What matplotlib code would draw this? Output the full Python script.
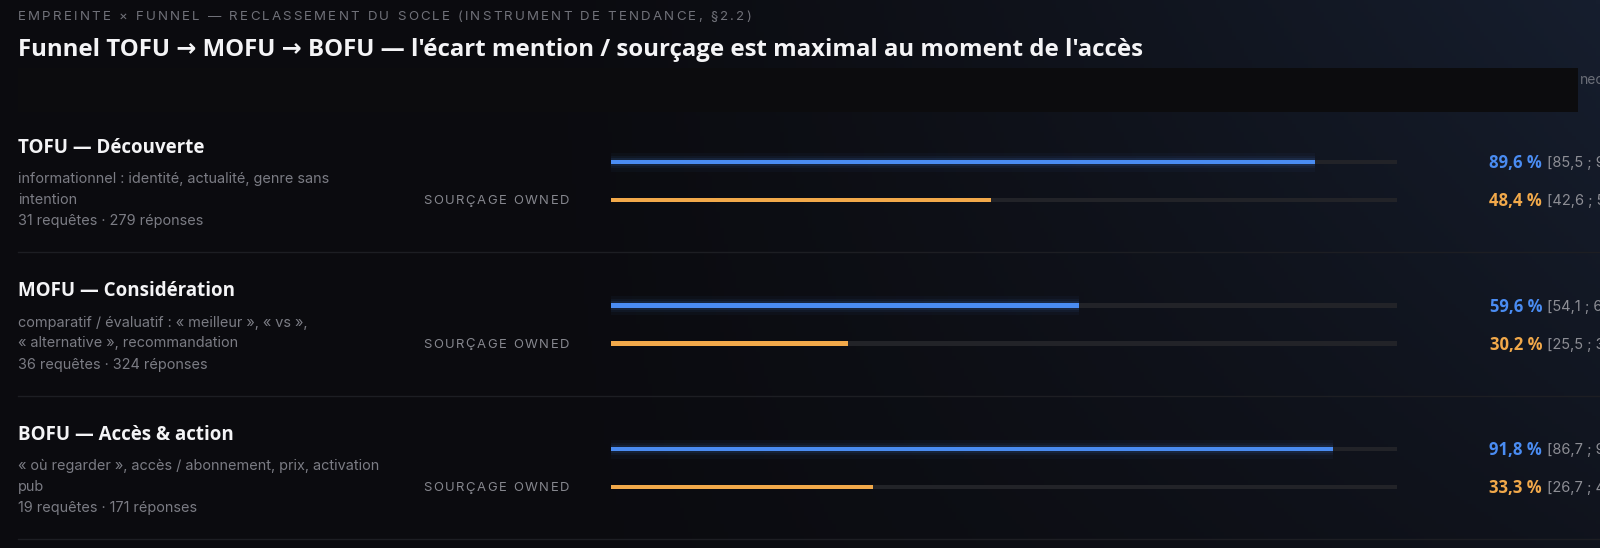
import numpy as np
import matplotlib
matplotlib.use("Agg")
from matplotlib import pyplot as plt
from matplotlib.patches import Rectangle

# data
stages = ["TOFU — Découverte", "MOFU — Considération", "BOFU — Accès & action"]
descs = [
    ["informationnel : identité, actualité, genre sans", "intention"],
    ["comparatif / évaluatif : « meilleur », « vs »,", "« alternative », recommandation"],
    ["« où regarder », accès / abonnement, prix, activation", "pub"],
]
n_requetes = [31, 36, 19]
n_reponses = [279, 324, 171]
mention = [89.6, 59.6, 91.8]
mention_ci = [(85.5, 92.9), (54.1, 64.9), (86.7, 95.0)]
owned = [48.4, 30.2, 33.3]
owned_ci = [(42.6, 54.3), (25.5, 35.4), (26.7, 40.6)]

kicker = "EMPREINTE × FUNNEL — RECLASSEMENT DU SOCLE (INSTRUMENT DE TENDANCE, §2.2)"
title = "Funnel TOFU → MOFU → BOFU — l'écart mention / sourçage est maximal au moment de l'accès"
owned_label = "SOURÇAGE OWNED"
note_tail = "nec"

BLUE = "#4a8cf2"
ORANGE = "#f2a94a"
TRACK = "#222328"
BOLD = ["Open Sans", "DejaVu Sans"]
W, H = 1600, 548

fig = plt.figure(figsize=(W / 100, H / 100), dpi=100)
bg = fig.add_axes([0, 0, 1, 1])
bg.set_xlim(0, W)
bg.set_ylim(H, 0)
bg.axis("off")

# background gradient, dark left -> bluish top right
xx, yy = np.meshgrid(np.linspace(0, 1, 400), np.linspace(0, 1, 137))
w = np.clip((xx - 0.3) / 0.7, 0, 1) ** 1.3 * (1 - 0.55 * yy)
c0 = np.array([11, 11, 15]) / 255
c1 = np.array([22, 30, 46]) / 255
img = c0 + (c1 - c0) * w[..., None]
bg.imshow(img, extent=[0, W, H, 0], aspect="auto", zorder=0)

renderer = fig.canvas.get_renderer()


def spaced(x, y, s, gap, **kw):
    # letter-spaced text, drawn char by char
    for ch in s:
        t = bg.text(x, y, ch, **kw)
        x += t.get_window_extent(renderer).width + gap


spaced(18, 17, kicker, 2.2, color="#707179", fontsize=9.6, family="Inter", va="center")
bg.text(18, 50, title, color="#f4f4f6", fontsize=17.3, family=BOLD, weight="bold",
        va="center")

# masked box, a note's tail shows past it
bg.add_patch(Rectangle((18, 68), 1560, 44, fc="#0c0c0e", ec="none", zorder=2))
bg.text(1580, 80, note_tail, color="#6b6f78", fontsize=10, family="Inter", va="center")

row_h = 143.5
for i in range(3):
    y0 = i * row_h
    bg.text(18, 148 + y0, stages[i], color="#f4f4f6", fontsize=13.5, family=BOLD,
            weight="bold", va="center")
    for j, line in enumerate(descs[i]):
        bg.text(18, 179 + y0 + 20.5 * j, line, color="#7b7c84", fontsize=10.4,
                family="Inter", va="center")
    bg.text(18, 221 + y0, f"{n_requetes[i]} requêtes · {n_reponses[i]} réponses",
            color="#7b7c84", fontsize=10.4, family="Inter", va="center")
    spaced(423, 201 + y0, owned_label, 1.6, color="#86878e", fontsize=9.4,
           family="Inter", va="center")
    bg.plot([18, W], [252 + y0, 252 + y0], color="#1d1e23", lw=1)

    # values
    for k, (v, ci, col) in enumerate([(mention[i], mention_ci[i], BLUE),
                                      (owned[i], owned_ci[i], ORANGE)]):
        yy_ = 163 + y0 + 38 * k
        bg.text(1542, yy_, f"{v:.1f} %".replace(".", ","), color=col, fontsize=12,
                family=BOLD, weight="bold", ha="right", va="center")
        bg.text(1547, yy_, f"[{ci[0]:.1f} ; {ci[1]:.1f}]".replace(".", ","),
                color="#8d8e95", fontsize=10.5, family="Inter", va="center")

    # bars
    top = 143 + i * row_h
    ax = fig.add_axes([611 / W, 1 - (top + 76) / H, 786 / W, 76 / H])
    ax.set_xlim(0, 100)
    ax.set_ylim(1.5, -0.5)
    ax.axis("off")
    ax.barh([0, 1], [100, 100], height=0.11, color=TRACK, zorder=1)
    for hh, a in [(0.5, 0.04), (0.34, 0.06), (0.22, 0.1)]:
        ax.barh(0, mention[i], height=hh, color=BLUE, alpha=a, lw=0, zorder=2)
    ax.barh(0, mention[i], height=0.13, color=BLUE, zorder=3)
    ax.barh(1, owned[i], height=0.13, color=ORANGE, zorder=3)

fig.savefig("out.png", dpi=100, facecolor="#0b0b0f")
